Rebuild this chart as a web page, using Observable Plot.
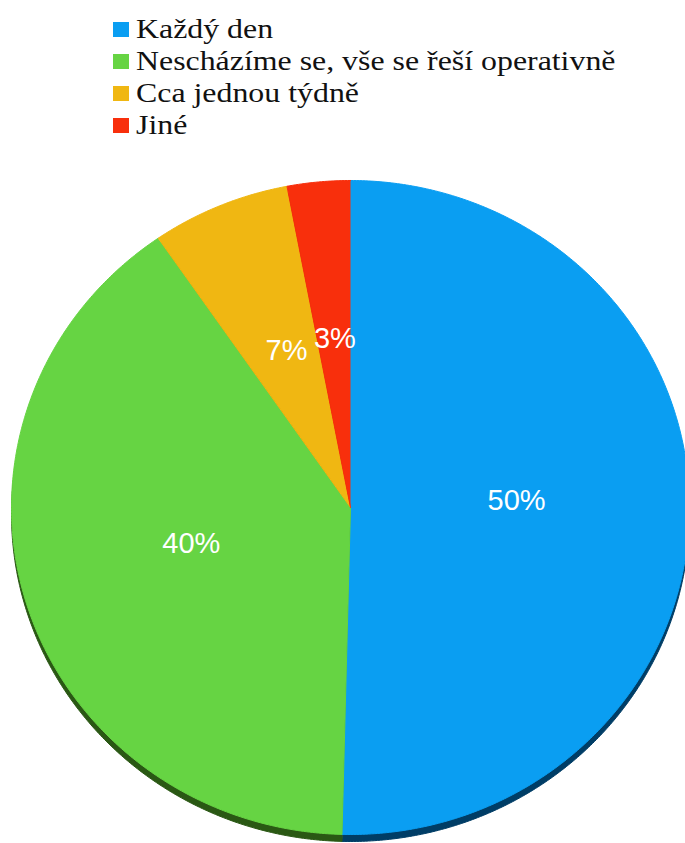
<!DOCTYPE html>
<html><head><meta charset="utf-8">
<script src="https://cdn.jsdelivr.net/npm/d3@7"></script>
<script src="https://cdn.jsdelivr.net/npm/@observablehq/plot@0.6"></script>
<style>
body{margin:0;background:#fff;width:685px;height:843px;overflow:hidden}
#legend{height:150px;box-sizing:border-box;padding-top:13px;padding-left:113px;font-family:"Liberation Serif","Times New Roman",Times,serif;font-size:27px;line-height:32px;color:#111}
.row{display:flex;align-items:center;white-space:nowrap;height:32px}
.sw{width:16px;height:15px;margin-right:7px;flex:none}
.lt{display:inline-block;transform:scaleX(1.18);transform-origin:0 50%}
</style></head><body>
<div id="legend"></div><div id="chart"></div>
<script>
const categories = ["Každý den", "Nescházíme se, vše se řeší operativně", "Cca jednou týdně", "Jiné"];
const values = [50.4, 40.0, 6.6, 3.0];
const colors = ["#0a9ef2", "#66d443", "#f0b712", "#f82f0c"];
const shadowColors = ["#003d66", "#2a5814", "#7a5a08", "#7a1a06"];

// legend
const legend = document.getElementById("legend");
categories.forEach((c, i) => {
  const row = document.createElement("div");
  row.className = "row";
  const sw = document.createElement("span");
  sw.className = "sw";
  sw.style.background = colors[i];
  const t = document.createElement("span");
  t.className = "lt";
  t.textContent = c;
  row.appendChild(sw); row.appendChild(t);
  legend.appendChild(row);
});

// slices
const total = d3.sum(values);
let acc = 0;
const slices = categories.map((c, i) => {
  const a0 = acc / total * 2 * Math.PI;
  acc += values[i];
  const a1 = acc / total * 2 * Math.PI;
  return {c, i, a0, a1, v: values[i], mid: (a0 + a1) / 2};
});
const pts = [];
slices.forEach(s => {
  pts.push({c: s.c, x: 0, y: 0, fill: colors[s.i], shadow: shadowColors[s.i]});
  const n = Math.max(2, Math.ceil((s.a1 - s.a0) / (Math.PI / 360)));
  for (let k = 0; k <= n; k++) {
    const a = s.a0 + (s.a1 - s.a0) * k / n;
    pts.push({c: s.c, x: Math.sin(a), y: Math.cos(a), fill: colors[s.i], shadow: shadowColors[s.i]});
  }
});

const chart = Plot.plot({
  width: 685,
  height: 693,
  margin: 0,
  x: {domain: [-1, 1], range: [11, 689], axis: null},
  y: {domain: [-1, 1], range: [684, 30], axis: null},
  color: {type: "identity"},
  marks: [
    Plot.line(pts, {x: "x", y: "y", z: "c", fill: "shadow", stroke: "shadow", strokeWidth: 1, dy: 7, curve: "linear"}),
    Plot.line(pts, {x: "x", y: "y", z: "c", fill: "fill", stroke: "fill", strokeWidth: 1, curve: "linear"}),
    Plot.text(slices, {
      x: s => 0.49 * Math.sin(s.mid),
      y: s => 0.49 * Math.cos(s.mid),
      text: s => Math.round(s.v) + "%",
      fill: "white",
      fontSize: 29,
      fontFamily: "Liberation Sans, Arial, sans-serif",
      lineAnchor: "bottom"
    })
  ]
});
document.getElementById("chart").appendChild(chart);
</script>
</body></html>
